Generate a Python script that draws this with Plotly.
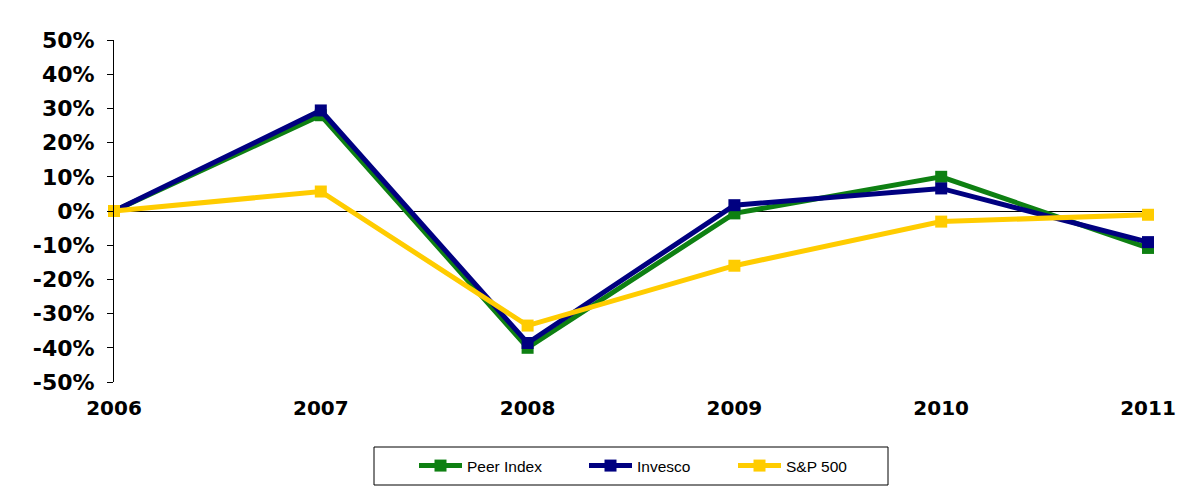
import plotly.graph_objects as go

years = [2006, 2007, 2008, 2009, 2010, 2011]
peer_index = [0.0, 28.0, -40.0, -0.7, 10.0, -10.8]
invesco = [0.0, 29.4, -38.6, 1.7, 6.6, -9.1]
sp500 = [0.0, 5.7, -33.5, -16.0, -3.1, -1.1]
y_ticks = [-50, -40, -30, -20, -10, 0, 10, 20, 30, 40, 50]
y_labels = [f"{v}%" for v in y_ticks]

series = [
    ("Peer Index", peer_index, "#0E8012", "legend"),
    ("Invesco", invesco, "#000080", "legend2"),
    ("S&P 500", sp500, "#FFCC00", "legend3"),
]

fig = go.Figure()
for name, vals, color, leg in series:
    fig.add_trace(go.Scatter(
        x=years, y=vals, name=name, mode="lines+markers",
        line=dict(color=color, width=5),
        marker=dict(symbol="square", size=12, color=color),
        cliponaxis=False, legend=leg,
    ))

W, H = 1204, 497
L, R, T, B = 114, 56, 40, 115
pw = W - L - R
ph = H - T - B


def legend_at(px_left):
    return dict(
        orientation="h", x=(px_left - L) / pw, xanchor="left",
        y=(H - B - 466) / ph, yanchor="middle",
        font=dict(family="Liberation Sans", size=15.5, color="black"),
        bgcolor="rgba(0,0,0,0)", borderwidth=0, itemwidth=43,
    )


fig.update_layout(
    width=W, height=H,
    margin=dict(l=L, r=R, t=T, b=B),
    plot_bgcolor="white", paper_bgcolor="white",
    font=dict(family="DejaVu Sans", color="black"),
    showlegend=True,
    legend=legend_at(414),
    legend2=legend_at(584),
    legend3=legend_at(733),
    xaxis=dict(
        range=[2006, 2011], tickvals=years, ticktext=[str(y) for y in years],
        showline=False, showgrid=False, zeroline=False, ticks="",
        tickfont=dict(family="DejaVu Sans", size=20, color="black", weight="bold"),
        ticklabelstandoff=12,
    ),
    yaxis=dict(
        range=[-50, 50], tickvals=y_ticks, ticktext=y_labels,
        showline=True, linecolor="black", linewidth=1,
        ticks="outside", ticklen=6, tickcolor="black",
        showgrid=False, zeroline=True, zerolinecolor="black", zerolinewidth=1,
        tickfont=dict(family="DejaVu Sans", size=22, color="black", weight="bold"),
        ticklabelstandoff=8,
    ),
)

fig.add_shape(type="rect", xref="paper", yref="paper",
              x0=(374 - L) / pw, x1=(888 - L) / pw,
              y0=(H - B - 485) / ph, y1=(H - B - 447) / ph,
              line=dict(color="black", width=1))

fig.write_html("out.html", config={"displayModeBar": False},
               post_script="document.body.style.margin='0px';")
